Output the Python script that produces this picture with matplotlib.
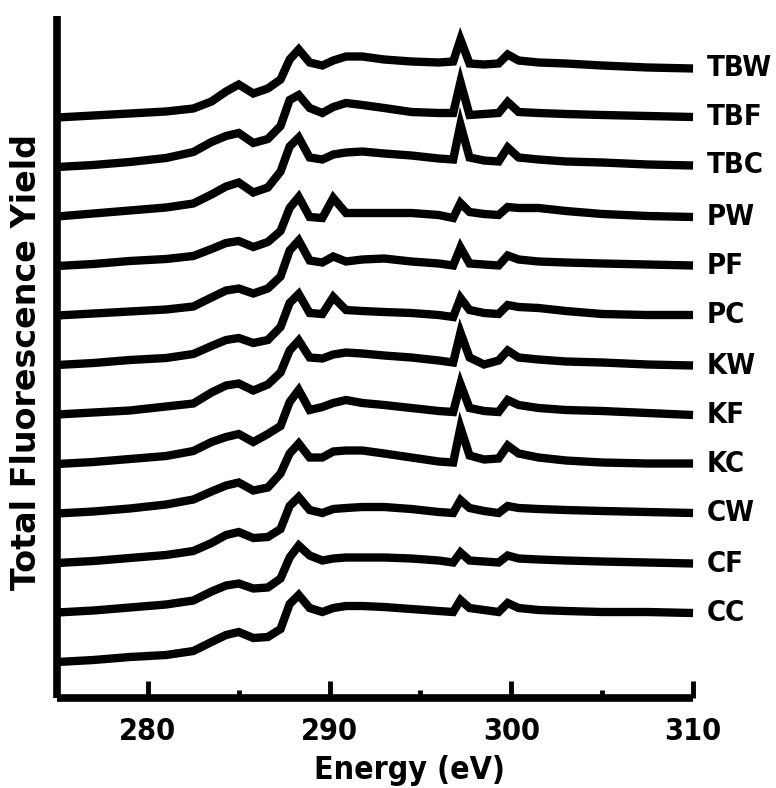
import numpy as np
import matplotlib.pyplot as plt
from matplotlib.ticker import FixedLocator

# photon energy grid (eV), shared by all spectra
energy = [275, 277, 279, 281, 282.5, 283.5, 284.3, 285.0, 285.8, 286.6, 287.3,
          287.8, 288.3, 288.9, 289.6, 290.2, 290.9, 291.8, 293, 294.5, 296,
          296.8, 297.2, 297.7, 298.5, 299.3, 299.8, 300.4, 301.5, 303, 305,
          307.5, 310]

# sample names, bottom to top
samples = ["CC", "CF", "CW", "KC", "KF", "KW", "PC", "PF", "PW", "TBC", "TBF", "TBW"]

# total fluorescence yield (a.u.), each relative to its own pre-edge
cc = [0, 2, 5, 7, 11, 20, 27, 30, 24, 25, 33, 58, 67, 54, 50, 54, 56, 56, 55, 53, 51,
      50, 62, 54, 52, 50, 59, 54, 52, 51, 50, 50, 49]
cf = [0, 2, 5, 8, 12, 21, 27, 29, 24, 25, 34, 55, 67, 57, 52, 54, 55, 55, 55, 54, 52,
      50, 60, 52, 51, 50, 57, 54, 53, 52, 51, 50, 49]
cw = [0, 2, 5, 8, 12, 20, 28, 31, 25, 26, 34, 57, 66, 53, 50, 54, 55, 56, 56, 54, 51,
      50, 63, 55, 52, 50, 57, 55, 54, 53, 52, 51, 50]
kc = [0, 2, 5, 9, 14, 22, 28, 31, 23, 26, 40, 60, 70, 56, 56, 62, 63, 63, 60, 56, 52,
      51, 86, 58, 54, 55, 68, 60, 56, 53, 51, 50, 50]
kf = [0, 2, 5, 8, 13, 22, 27, 30, 22, 30, 38, 62, 74, 54, 57, 61, 64, 61, 59, 56, 53,
      52, 80, 56, 53, 52, 64, 59, 56, 54, 53, 51, 49]
kw = [0, 2, 4, 8, 11, 22, 29, 31, 24, 30, 42, 64, 74, 57, 56, 60, 62, 61, 59, 57, 54,
      52, 82, 57, 50, 54, 64, 57, 55, 53, 52, 50, 49]
pc = [0, 2, 5, 7, 11, 19, 25, 27, 22, 25, 38, 62, 71, 52, 51, 68, 55, 54, 53, 52, 50,
      48, 67, 55, 52, 51, 60, 58, 57, 54, 51, 50, 50]
pf = [0, 2, 4, 6, 9, 18, 25, 27, 22, 27, 39, 65, 75, 55, 53, 59, 54, 56, 57, 54, 52,
      50, 68, 52, 51, 50, 60, 56, 54, 53, 52, 51, 50]
pw = [0, 2, 5, 7, 10, 17, 23, 25, 19, 24, 35, 58, 69, 49, 48, 68, 53, 53, 53, 53, 51,
      48, 63, 54, 52, 51, 59, 58, 58, 55, 52, 50, 49]
tbc = [0, 3, 6, 9, 13, 22, 30, 34, 24, 29, 45, 70, 79, 59, 57, 62, 64, 65, 63, 61, 58,
       57, 92, 59, 56, 55, 69, 59, 57, 55, 54, 52, 51]
tbf = [0, 2, 5, 9, 15, 25, 31, 34, 24, 28, 41, 67, 72, 59, 54, 60, 64, 62, 59, 55, 54,
       54, 85, 52, 53, 54, 65, 55, 54, 53, 52, 51, 50]
tbw = [0, 2, 4, 6, 9, 16, 26, 33, 24, 29, 38, 58, 68, 55, 52, 57, 61, 61, 58, 56, 55,
       56, 78, 54, 53, 54, 63, 57, 55, 54, 52, 50, 49]

spectra = [cc, cf, cw, kc, kf, kw, pc, pf, pw, tbc, tbf, tbw]
spacing = 49.5  # vertical offset between stacked spectra

# condensed bold face for labels and ticks
narrow = dict(family="DejaVu Sans", fontstretch="condensed", fontweight="bold")
plt.rcParams["font.family"] = "DejaVu Sans"
plt.rcParams["font.weight"] = "bold"

fig = plt.figure(figsize=(7.76, 7.88), dpi=100)
ax = fig.add_axes([0.0735, 0.1142, 0.8196, 0.8655])

for i, (name, spec) in enumerate(zip(samples, spectra)):
    y = np.array(spec, dtype=float) + i * spacing
    ax.plot(energy, y, color="black", lw=6, solid_joinstyle="miter",
            solid_capstyle="butt", clip_on=False)
    ax.annotate(name, (energy[-1], y[-1]), xytext=(10, 0), textcoords="offset points",
                ha="left", va="center", fontsize=21, **narrow)

ax.set_xlim(275, 310)
ax.set_ylim(-36, 646)

for side in ["top", "right"]:
    ax.spines[side].set_visible(False)
for side in ["left", "bottom"]:
    ax.spines[side].set_linewidth(5.5)
    ax.spines[side].set_capstyle("butt")

ax.set_yticks([])
ax.xaxis.set_major_locator(FixedLocator([280, 290, 300, 310]))
ax.xaxis.set_minor_locator(FixedLocator([285, 295, 305]))
ax.tick_params(axis="x", which="major", direction="in", length=12, width=3.5,
               pad=14)
ax.tick_params(axis="x", which="minor", direction="in", length=6, width=3.5)
for lab in ax.get_xticklabels():
    lab.set_fontsize(22)
    lab.set_fontfamily("DejaVu Sans")
    lab.set_fontstretch("condensed")
    lab.set_fontweight("bold")

fig.text(410 / 776, 1 - 771 / 788, "Energy (eV)", ha="center", va="center",
         fontsize=23, **narrow)
fig.text(27 / 776, 1 - 362 / 788, "Total Fluorescence Yield", rotation=90,
         ha="center", va="center", fontsize=24, fontweight="bold",
         family="DejaVu Sans")

fig.savefig("out.png", dpi=100)
